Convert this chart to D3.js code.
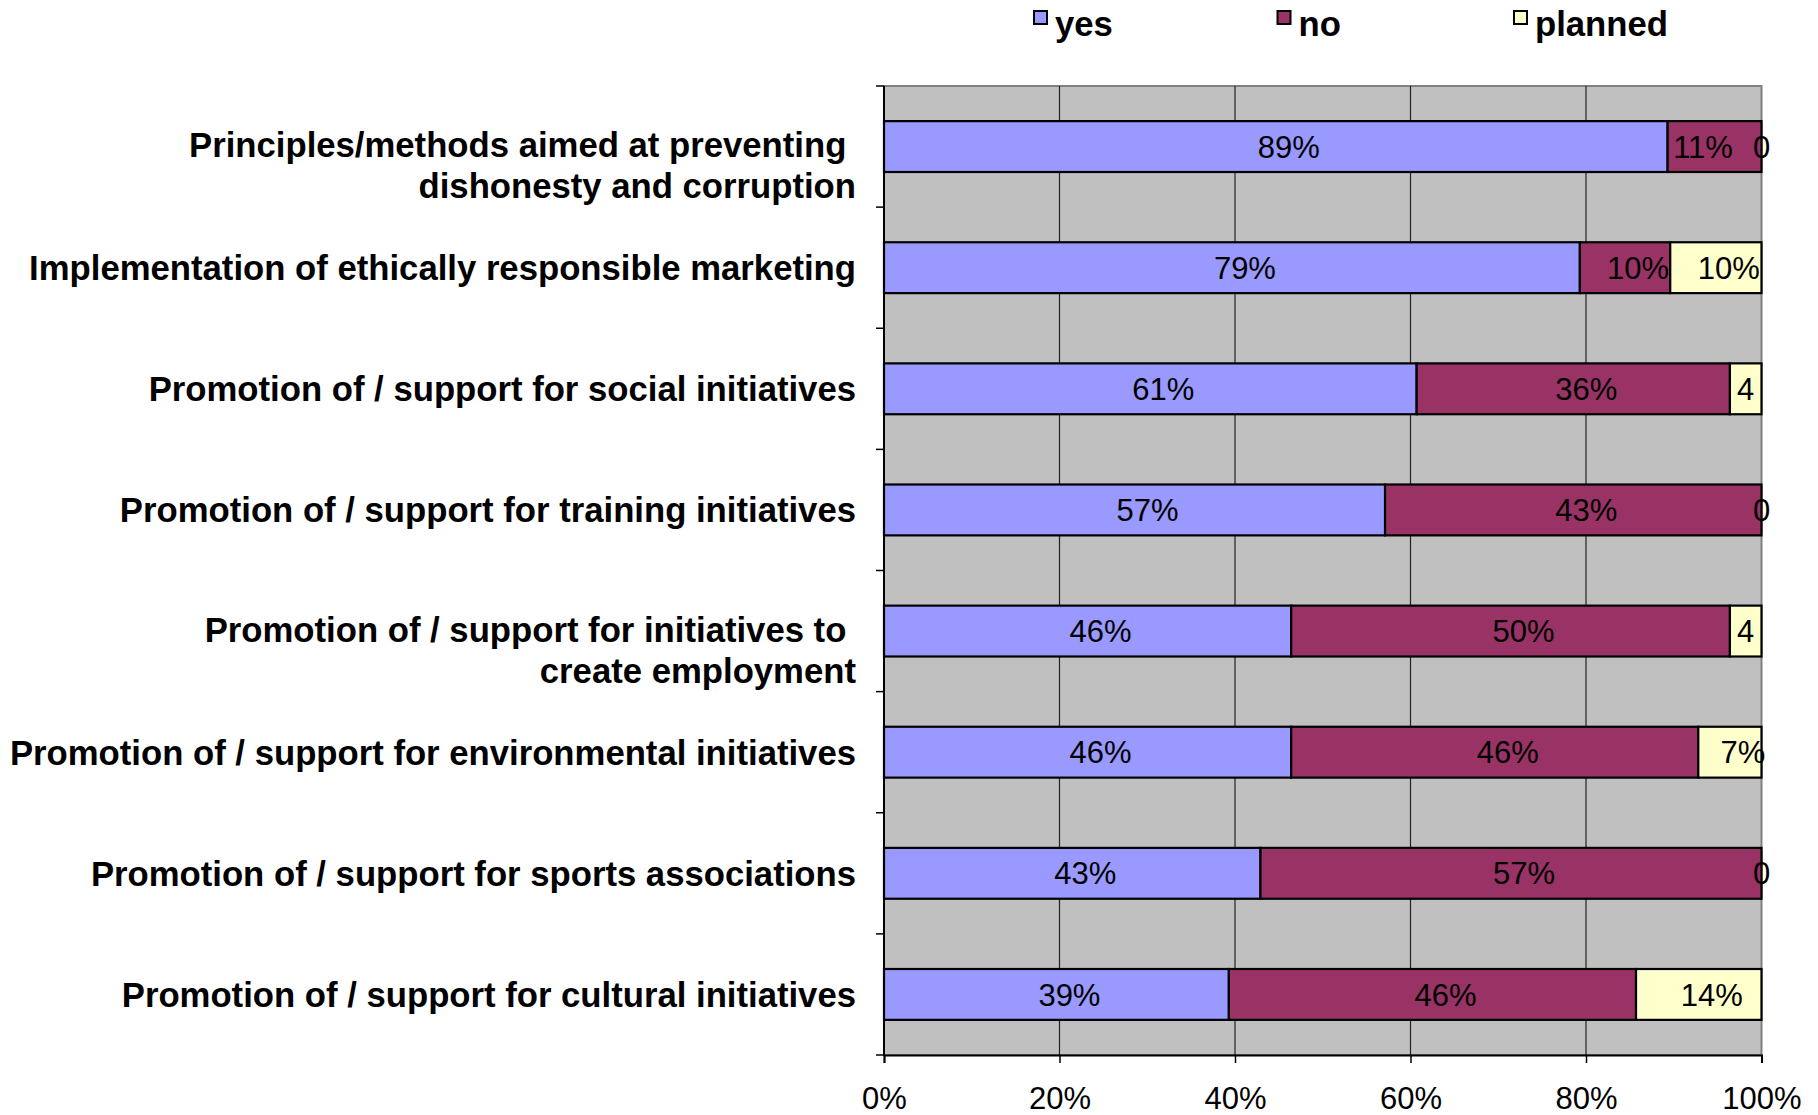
<!DOCTYPE html>
<html lang="en">
  <head>
    <meta charset="UTF-8" />
    <title>Social initiatives</title>
    <style>
      body { margin: 0; background: #fff; }
      svg { display: block; font-family: "Liberation Sans", Arial, sans-serif; }
      .cat { white-space: pre; }
    </style>
  </head>
  <body>
    <script src="https://cdn.jsdelivr.net/npm/d3@7/dist/d3.min.js"></script>
    <script>
      // data (percent of answers)
      var categories = [
        "Principles/methods aimed at preventing |dishonesty and corruption",
        "Implementation of ethically responsible marketing",
        "Promotion of / support for social initiatives",
        "Promotion of / support for training initiatives",
        "Promotion of / support for initiatives to |create employment",
        "Promotion of / support for environmental initiatives",
        "Promotion of / support for sports associations",
        "Promotion of / support for cultural initiatives"
      ];
      var yes = [89.3, 79.3, 60.7, 57.1, 46.4, 46.4, 42.9, 39.3];
      var no = [10.7, 10.3, 35.7, 42.9, 50.0, 46.4, 57.1, 46.4];
      var planned = [0, 10.4, 3.6, 0, 3.6, 7.2, 0, 14.3];
      var seriesNames = ["yes", "no", "planned"];
      var seriesColors = ["#9999FF", "#993366", "#FFFFCC"];
      var xTicks = [0, 20, 40, 60, 80, 100];

      var W = 1818, H = 1115;
      var margin = { top: 86, right: 56.5, bottom: 60, left: 884 };

      var svg = d3.select("body").append("svg")
        .attr("width", W)
        .attr("height", H);

      var x = d3.scaleLinear()
        .domain([0, 100])
        .range([margin.left, W - margin.right]);

      var y = d3.scaleBand()
        .domain(categories)
        .range([margin.top, H - margin.bottom])
        .paddingInner(0.58)
        .paddingOuter(0.29);

      // plot area
      svg.append("rect")
        .attr("x", x(0))
        .attr("y", margin.top)
        .attr("width", x(100) - x(0))
        .attr("height", H - margin.bottom - margin.top)
        .attr("fill", "#C0C0C0")
        .attr("stroke", "#808080")
        .attr("stroke-width", 2);

      // gridlines
      svg.selectAll(".grid")
        .data(xTicks.slice(1, -1))
        .enter()
        .append("line")
        .attr("class", "grid")
        .attr("x1", function(d) { return x(d); })
        .attr("x2", function(d) { return x(d); })
        .attr("y1", margin.top)
        .attr("y2", H - margin.bottom)
        .attr("stroke", "#222")
        .attr("stroke-width", 1.2);

      // stacked bars
      var rows = categories.map(function(c, i) {
        return { cat: c, yes: yes[i], no: no[i], planned: planned[i] };
      });
      var stack = d3.stack().keys(seriesNames)(rows);

      var layers = svg.selectAll(".layer")
        .data(stack)
        .enter()
        .append("g")
        .attr("class", "layer")
        .attr("fill", function(d, i) { return seriesColors[i]; });

      layers.selectAll("rect")
        .data(function(d) { return d; })
        .enter()
        .append("rect")
        .attr("x", function(d) { return x(d[0]); })
        .attr("y", function(d) { return y(d.data.cat); })
        .attr("width", function(d) { return x(d[1]) - x(d[0]); })
        .attr("height", y.bandwidth())
        .attr("stroke", "#000")
        .attr("stroke-width", 2.2);

      // value labels (drawn above all bars)
      var labelG = svg.append("g");
      var labels = [];
      stack.forEach(function(layer, s) {
        layer.forEach(function(d, r) {
          var v = d[1] - d[0];
          var t = labelG.append("text")
            .attr("y", y(d.data.cat) + y.bandwidth() / 2)
            .attr("dy", "0.36em")
            .attr("text-anchor", "middle")
            .attr("fill", "#000")
            .style("font-size", "31px")
            .text(Math.round(v) >= 5 ? Math.round(v) + "%" : Math.round(v));
          labels.push({
            row: r, s: s, node: t,
            cx: (x(d[0]) + x(d[1])) / 2 + (v >= 5 ? 13 : 0),
            w: t.node().getComputedTextLength()
          });
        });
      });
      // push a label left when it runs into the next one in the row
      d3.range(categories.length).forEach(function(r) {
        var inRow = labels.filter(function(l) { return l.row === r; });
        for (var k = inRow.length - 2; k >= 0; k--) {
          var nextLeft = inRow[k + 1].cx - inRow[k + 1].w / 2;
          if (inRow[k].cx + inRow[k].w / 2 > nextLeft - 20) {
            inRow[k].cx = nextLeft - 20 - inRow[k].w / 2;
          }
        }
      });
      labels.forEach(function(l) { l.node.attr("x", l.cx); });

      // left axis
      svg.append("line")
        .attr("x1", x(0)).attr("x2", x(0))
        .attr("y1", margin.top).attr("y2", H - margin.bottom)
        .attr("stroke", "#000").attr("stroke-width", 2);
      svg.selectAll(".ytick")
        .data(d3.range(categories.length + 1))
        .enter()
        .append("line")
        .attr("class", "ytick")
        .attr("x1", x(0) - 8).attr("x2", x(0))
        .attr("y1", function(i) { return margin.top + i * y.step(); })
        .attr("y2", function(i) { return margin.top + i * y.step(); })
        .attr("stroke", "#000").attr("stroke-width", 1.5);

      // category labels
      svg.selectAll(".cat")
        .data(categories)
        .enter()
        .append("text")
        .attr("class", "cat")
        .attr("text-anchor", "end")
        .style("font-size", "34.7px")
        .style("font-weight", "bold")
        .each(function(d) {
          var t = d3.select(this);
          var lines = d.split("|");
          var yy = y(d) + y.bandwidth() / 2 + (lines.length > 1 ? -2 : 0);
          lines.forEach(function(line, k) {
            t.append("tspan")
              .attr("x", 856)
              .attr("y", yy + k * 41)
              .attr("dy", "0.36em")
              .text(line);
          });
        });

      // bottom axis
      var xAxis = d3.axisBottom(x)
        .tickValues(xTicks)
        .tickSize(8)
        .tickPadding(24)
        .tickFormat(function(d) { return d + "%"; });
      var gx = svg.append("g")
        .attr("transform", "translate(0," + (H - margin.bottom) + ")")
        .call(xAxis);
      gx.select(".domain").attr("stroke", "#000").attr("stroke-width", 2);
      gx.selectAll(".tick line").attr("stroke", "#000").attr("stroke-width", 1.5);
      gx.selectAll(".tick text")
        .style("font-size", "31px")
        .style("font-family", "'Liberation Sans', Arial, sans-serif")
        .attr("fill", "#000");

      // legend
      var legendX = [1055, 1298.5, 1535];
      var legend = svg.selectAll(".legend")
        .data(seriesNames)
        .enter()
        .append("g")
        .attr("class", "legend")
        .attr("transform", function(d, i) { return "translate(" + legendX[i] + ",0)"; });
      legend.append("rect")
        .attr("x", -21)
        .attr("y", 11)
        .attr("width", 13)
        .attr("height", 13)
        .attr("fill", function(d, i) { return seriesColors[i]; })
        .attr("stroke", "#000")
        .attr("stroke-width", 2);
      legend.append("text")
        .attr("x", 0)
        .attr("y", 36)
        .style("font-size", "34.7px")
        .style("font-weight", "bold")
        .text(function(d) { return d; });
    </script>
  </body>
</html>
